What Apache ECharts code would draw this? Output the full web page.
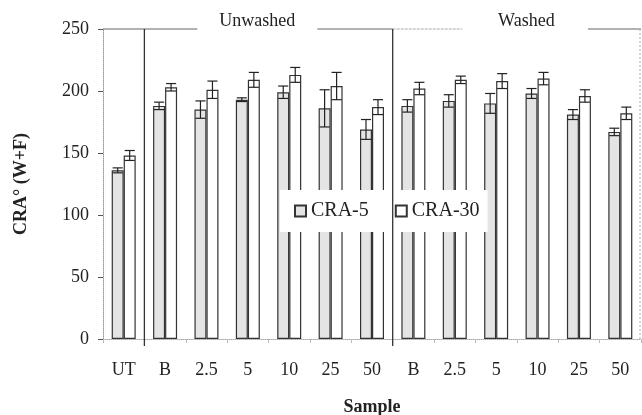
<!DOCTYPE html>
<html><head><meta charset="utf-8">
<script src="https://cdn.jsdelivr.net/npm/echarts@6/dist/echarts.min.js"></script>
<style>html,body{margin:0;padding:0;background:#fff}#c{width:642px;height:415px}</style>
</head><body><div id="c"></div>
<script>
const categories = ['UT','B','2.5','5','10','25','50','B','2.5','5','10','25','50'];
const cra5 = [136,188,185,193,199,186,169,188,192,190,198,181,167];
const cra5Err = [2,3,7,1.5,5,15,8,5,5,8,4,4,3];
const cra30 = [148,203,201,209,213,204,187,202,209,208,210,196,182];
const cra30Err = [4,3,7,6,6,11,6,5,3,6,5,5,5];
const seriesNames = ['CRA-5','CRA-30'];
const groupNames = ['Unwashed','Washed'];
const yTicks = [0,50,100,150,200,250];

const FONT = '"Liberation Serif","Times New Roman",serif';
const GAP = 0.42;
const catIdx = categories.map((_, i) => String(i));

function errRender(side) {
  return function (params, api) {
    const i = api.value(0), v = api.value(1), e = api.value(2);
    const band = api.size([1, 0])[0];
    const bw = band * (1 - GAP) / 2;
    const cx = api.coord([i, v])[0] + side * bw / 2;
    const top = api.coord([i, v + e])[1];
    const bot = api.coord([i, v - e])[1];
    const hw = bw * 0.42;
    const st = {stroke: '#222', lineWidth: 1.2};
    return {type: 'group', children: [
      {type: 'line', shape: {x1: cx, y1: top, x2: cx, y2: bot}, style: st},
      {type: 'line', shape: {x1: cx - hw, y1: top, x2: cx + hw, y2: top}, style: st},
      {type: 'line', shape: {x1: cx - hw, y1: bot, x2: cx + hw, y2: bot}, style: st}
    ]};
  };
}

const chart = echarts.init(document.getElementById('c'));
chart.setOption({
  animation: false,
  backgroundColor: '#fff',
  textStyle: {fontFamily: FONT},
  grid: {left: 103, right: 1, top: 29, bottom: 76, containLabel: false, outerBoundsMode: 'none'},
  legend: {
    data: seriesNames,
    left: 280, top: 190,
    backgroundColor: '#fff',
    padding: [11, 8, 11, 14],
    z: 20,
    icon: 'rect', itemWidth: 11, itemHeight: 11, itemGap: 26,
    textStyle: {fontFamily: FONT, fontSize: 20, color: '#222'}
  },
  xAxis: [{
    type: 'category', data: catIdx,
    name: 'Sample', nameLocation: 'middle', nameGap: 59,
    nameTextStyle: {fontFamily: FONT, fontSize: 18, fontWeight: 'bold', color: '#222'},
    axisLine: {lineStyle: {color: '#aaa', type: 'dotted'}},
    axisTick: {show: true, length: 4, lineStyle: {color: '#bbb'}},
    axisLabel: {formatter: (v, i) => categories[i], fontFamily: FONT, fontSize: 18, color: '#222', margin: 22},
    splitLine: {show: false}
  }, {
    type: 'value', min: 0, max: categories.length, show: false
  }],
  yAxis: {
    type: 'value', min: yTicks[0], max: yTicks[yTicks.length - 1], interval: 50,
    name: 'CRA° (W+F)', nameLocation: 'middle', nameGap: 73,
    nameTextStyle: {fontFamily: FONT, fontSize: 18, fontWeight: 'bold', color: '#222'},
    axisLine: {show: true, lineStyle: {color: '#999', type: 'dotted'}},
    axisTick: {show: true, length: 5, lineStyle: {color: '#555'}},
    axisLabel: {fontFamily: FONT, fontSize: 18, color: '#222', margin: 14},
    splitLine: {show: false}
  },
  series: [{
    name: seriesNames[0], type: 'bar', data: cra5, barGap: '0%', barCategoryGap: (GAP * 100) + '%',
    itemStyle: {color: '#e4e4e4', borderColor: '#333', borderWidth: 1.2}
  }, {
    name: seriesNames[1], type: 'bar', data: cra30, barGap: '0%', barCategoryGap: (GAP * 100) + '%',
    itemStyle: {color: '#fff', borderColor: '#333', borderWidth: 1.2}
  }, {
    type: 'custom', renderItem: errRender(-1), z: 5,
    data: cra5.map((v, i) => [i, v, cra5Err[i]]), encode: {x: 0, y: 1}
  }, {
    type: 'custom', renderItem: errRender(1), z: 5,
    data: cra30.map((v, i) => [i, v, cra30Err[i]]), encode: {x: 0, y: 1}
  }]
});

// structural lines and group labels, positioned through the axes
const px = v => chart.convertToPixel({xAxisIndex: 1}, v);
const py = v => chart.convertToPixel({yAxisIndex: 0}, v);
const yTop = py(250), yBot = py(0);
const solid = {stroke: '#333', lineWidth: 1.3};
const g = [];
const seg = (a, b, style) => g.push({type: 'line', shape: {x1: px(a), y1: yTop, x2: px(b), y2: yTop}, style, z: 30});
seg(0, 2.28, {stroke: '#666', lineWidth: 1.2});
seg(5.18, 7, {stroke: '#666', lineWidth: 1.2});
seg(7, 8.68, {stroke: '#aaa', lineWidth: 1, lineDash: [3, 1]});
seg(11.72, 13, {stroke: '#666', lineWidth: 1.2});
[1, 7].forEach(b => g.push({type: 'line', shape: {x1: px(b), y1: yTop, x2: px(b), y2: yBot + 7}, style: solid, z: 30}));
g.push({type: 'line', shape: {x1: px(13) - 1, y1: yTop, x2: px(13) - 1, y2: yBot}, style: {stroke: '#aaa', lineWidth: 1, lineDash: [2, 2]}, z: 30});
[[groupNames[0], 3.73], [groupNames[1], 10.23]].forEach(([t, x]) => g.push({
  type: 'text', x: px(x), y: yTop - 8, z: 30,
  style: {text: t, fontFamily: FONT, fontSize: 18, fill: '#222', align: 'center', verticalAlign: 'middle'}
}));
chart.setOption({graphic: g});
</script></body></html>
